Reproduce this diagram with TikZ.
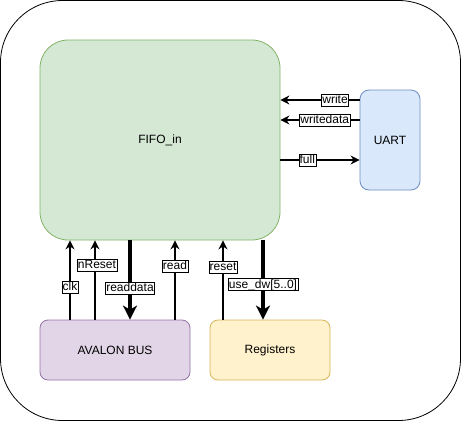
\documentclass[tikz,border=0pt]{standalone}
\usepackage{fontspec}
\setmainfont{Liberation Sans}
\usetikzlibrary{arrows.meta}
\definecolor{gfill}{HTML}{D5E8D4}\definecolor{gline}{HTML}{82B366}
\definecolor{bfill}{HTML}{DAE8FC}\definecolor{bline}{HTML}{6C8EBF}
\definecolor{pfill}{HTML}{E1D5E7}\definecolor{pline}{HTML}{9673A6}
\definecolor{yfill}{HTML}{FFF2CC}\definecolor{yline}{HTML}{D6B656}
\begin{document}
\begin{tikzpicture}[x=1pt,y=-1pt,
  blk/.style={draw, line width=0.8pt, font=\fontsize{12}{14}\selectfont},
  sig/.style={line width=1.6pt, -{Stealth[length=9pt,width=9pt,inset=3pt]}},
  bus/.style={line width=3.5pt, -{Stealth[length=14pt,width=14pt,inset=4pt]}},
  lbl/.style={draw=black, fill=white, line width=0.6pt, inner xsep=0.8pt, inner ysep=0.5pt, font=\fontsize{12}{13}\selectfont, text depth=2pt, text height=9pt}]
\useasboundingbox (0,0) rectangle (461,421);
\draw[line width=0.8pt, rounded corners=62pt] (0.5,0.5) rectangle (460.5,420.5);
\node[blk, fill=gfill, draw=gline, rounded corners=28pt, minimum width=240pt, minimum height=200pt] (fifo) at (160,140) {FIFO\_in};
\node[blk, fill=bfill, draw=bline, rounded corners=9pt, minimum width=60pt, minimum height=100pt] (uart) at (390,140) {UART};
\node[blk, fill=pfill, draw=pline, rounded corners=8pt, minimum width=150pt, minimum height=60pt] (avalon) at (115,350) {AVALON BUS};
\node[blk, fill=yfill, draw=yline, rounded corners=8pt, minimum width=120pt, minimum height=60pt] (regs) at (270,350) {Registers};
% UART side
\draw[sig] (uart.west |- 0,100) -- node[lbl, pos=0.31] (lwrite) {write} (fifo.east |- 0,100);
\draw[sig] (uart.west |- 0,120) -- node[lbl, pos=0.44] (lwd) {writedata} (fifo.east |- 0,120);
\draw[sig] (fifo.east |- 0,160) -- node[lbl, pos=0.34] (lfull) {full} (uart.west |- 0,160);
% bottom
\draw[sig] (avalon.north -| 70,0) -- node[lbl, pos=0.41] (lclk) {clk} (fifo.south -| 70,0);
\draw[sig] (avalon.north -| 95,0) -- node[lbl, pos=0.69, xshift=2pt] (lnr) {nReset} (fifo.south -| 95,0);
\draw[bus] (fifo.south -| 130,0) -- node[lbl, pos=0.6] (lrd) {readdata} (avalon.north -| 130,0);
\draw[sig] (avalon.north -| 175,0) -- node[lbl, pos=0.675] (lread) {read} (fifo.south -| 175,0);
\draw[sig] (regs.north -| 223,0) -- node[lbl, pos=0.66] (lreset) {reset} (fifo.south -| 223,0);
\draw[bus] (fifo.south -| 263,0) -- node[lbl, pos=0.56] (luse) {use\_dw[5..0]} (regs.north -| 263,0);
\end{tikzpicture}
\end{document}
